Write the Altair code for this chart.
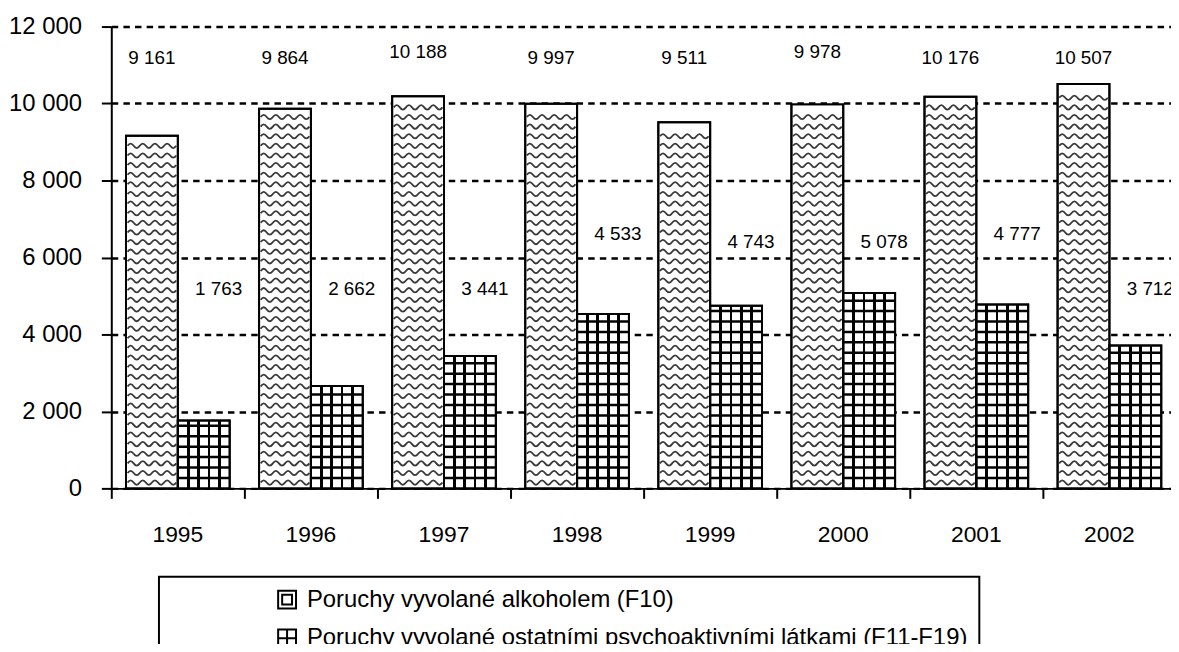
import altair as alt
import pandas as pd

# ---------------- data ----------------
years = ["1995", "1996", "1997", "1998", "1999", "2000", "2001", "2002"]
alcohol = [9161, 9864, 10188, 9997, 9511, 9978, 10176, 10507]
other = [1763, 2662, 3441, 4533, 4743, 5078, 4777, 3712]
series_names = [
    "Poruchy vyvolané alkoholem (F10)",
    "Poruchy vyvolané ostatními psychoaktivními látkami (F11-F19)",
]
title_text = "a ostatními psychoaktivními látkami"
y_ticks = [0, 2000, 4000, 6000, 8000, 10000, 12000]

# label anchor levels (where the value labels sit, in axis units)
alc_label_level = [11190, 11190, 11340, 11190, 11190, 11340, 11190, 11190]
oth_label_level = [5180, 5180, 5180, 6600, 6390, 6390, 6600, 5180]

# ---------------- style ----------------
SANS = "Liberation Sans, Arial, sans-serif"
WAVE_STEP, WAVE_START = 250, 150
GRID_STEP, GRID_THICK = 271, 65
WAVE_PATH = "M-1,0Q-0.875,-0.18,-0.75,0T-0.5,0T-0.25,0T0,0T0.25,0T0.5,0T0.75,0T1,0"


def fmt(v):
    return f"{v:,}".replace(",", " ")


rows = []
for i, yr in enumerate(years):
    rows.append(dict(year=yr, series=series_names[0], value=alcohol[i],
                     lab=fmt(alcohol[i]), lvl=alc_label_level[i]))
    rows.append(dict(year=yr, series=series_names[1], value=other[i],
                     lab=fmt(other[i]), lvl=oth_label_level[i]))
df = pd.DataFrame(rows)

# pattern rows (texture inside the bars)
wave_rows, grid_rows = [], []
for i, yr in enumerate(years):
    lv = WAVE_START
    while lv <= alcohol[i] - 150:
        wave_rows.append(dict(year=yr, series=series_names[0], lv=lv))
        lv += WAVE_STEP
    k = 1
    while GRID_STEP * k < other[i] - 60:
        c = GRID_STEP * k
        grid_rows.append(dict(year=yr, series=series_names[1],
                              lo=c - GRID_THICK / 2, hi=c + GRID_THICK / 2))
        k += 1
wave_df = pd.DataFrame(wave_rows)
grid_df = pd.DataFrame(grid_rows)

x_enc = alt.X(
    "year:N",
    scale=alt.Scale(domain=years, range=[0, 1072], paddingInner=0, paddingOuter=0),
    axis=alt.Axis(
        title=None, labelAngle=0, bandPosition=0,
        labelFont=SANS, labelFontSize=23, labelColor="black", labelPadding=25,
        tickSize=10, tickWidth=2, tickColor="black",
        domainColor="black", domainWidth=2, grid=False,
    ),
)
xo_enc = alt.XOffset(
    "series:N",
    scale=alt.Scale(domain=series_names, paddingOuter=0.2835, paddingInner=0),
)
y_scale = alt.Scale(domain=[0, 12000], nice=False)
y_enc = alt.Y(
    "value:Q",
    scale=y_scale,
    axis=alt.Axis(
        title=None, values=y_ticks,
        labelExpr="replace(format(datum.value, ','), ',', ' ')",
        labelFont=SANS, labelFontSize=24, labelColor="black", labelPadding=20,
        tickSize=10, tickWidth=2, tickColor="black",
        domainColor="black", domainWidth=2,
        grid=True, gridColor="black", gridWidth=2.5, gridDash=[6.5, 5.2],
    ),
)

base = alt.Chart(df)

sym_alc = "M-1,-1H1V1H-1Z M-0.55,-0.55H0.55V0.55H-0.55Z"
sym_grid = "M-1,-1H1V1H-1Z M0,-1V1 M-1,0H1"

# legend carrier: symbols sit in the middle of each bar and are covered by the bars
legend_layer = base.transform_calculate(mid="datum.value / 2").mark_point(
    filled=False, color="black", strokeWidth=2, opacity=1
).encode(
    x=x_enc, xOffset=xo_enc, y=alt.Y("mid:Q", scale=y_scale),
    shape=alt.Shape(
        "series:N",
        scale=alt.Scale(domain=series_names, range=[sym_alc, sym_grid]),
        legend=alt.Legend(
            title=None, orient="none", legendX=48, legendY=554,
            labelFont=SANS, labelFontSize=24, labelColor="black",
            labelOffset=8, labelLimit=1000, symbolOffset=106,
            symbolSize=324, symbolStrokeWidth=2, symbolStrokeColor="black",
            symbolOpacity=1,
            rowPadding=13, padding=11, strokeColor="black",
        ),
    ),
)

grid_fill = alt.LinearGradient(
    gradient="linear", x1=0, x2=1, y1=0, y2=0,
    stops=[alt.GradientStop(color="white", offset=0)]
    + [s for c in (0.2, 0.4, 0.6, 0.8) for s in (
        alt.GradientStop(color="white", offset=c - 0.026),
        alt.GradientStop(color="black", offset=c - 0.026),
        alt.GradientStop(color="black", offset=c + 0.026),
        alt.GradientStop(color="white", offset=c + 0.026),
    )]
    + [alt.GradientStop(color="white", offset=1)],
)

alc_bars = base.transform_filter(
    alt.datum.series == series_names[0]
).mark_bar(fill="white", stroke="black", strokeWidth=2).encode(
    x=x_enc, xOffset=xo_enc, y=y_enc
)
oth_bars = base.transform_filter(
    alt.datum.series == series_names[1]
).mark_bar(fill=grid_fill, stroke="black", strokeWidth=2).encode(
    x=x_enc, xOffset=xo_enc, y=y_enc
)

waves = alt.Chart(wave_df).mark_point(
    shape=WAVE_PATH, size=2401, filled=False, stroke="#3a3a3a",
    strokeWidth=1.8, opacity=1,
).encode(x=x_enc, xOffset=xo_enc, y=alt.Y("lv:Q", scale=y_scale))

grid_lines = alt.Chart(grid_df).mark_bar(color="black").encode(
    x=x_enc, xOffset=xo_enc,
    y=alt.Y("lo:Q", scale=y_scale), y2="hi:Q",
)

outline = base.mark_bar(fillOpacity=0, stroke="black", strokeWidth=2).encode(
    x=x_enc, xOffset=xo_enc, y=y_enc
)

alc_labels = base.transform_filter(
    alt.datum.series == series_names[0]
).mark_text(font=SANS, fontSize=19, color="black", baseline="middle").encode(
    x=x_enc, xOffset=xo_enc, y=alt.Y("lvl:Q", scale=y_scale), text="lab:N"
)
oth_labels = base.transform_filter(
    alt.datum.series == series_names[1]
).mark_text(font=SANS, fontSize=19, color="black", baseline="middle", dx=15).encode(
    x=x_enc, xOffset=xo_enc, y=alt.Y("lvl:Q", scale=y_scale), text="lab:N"
)

chart = alt.layer(
    legend_layer, alc_bars, oth_bars, waves, grid_lines, outline, alc_labels, oth_labels
).properties(
    width=1067,
    height=465,
    padding={"left": 104, "top": 16.5, "right": 0, "bottom": 154.5},
    autosize=alt.AutoSizeParams(type="none"),
    title=alt.TitleParams(
        text=title_text, font=SANS, fontSize=32, fontWeight="bold", color="black",
        anchor="middle", frame="group", baseline="alphabetic", offset=16, dx=-40,
    ),
).configure_view(stroke=None).configure_legend(strokeWidth=2)

chart.save("out.html", embed_options={"renderer": "svg", "actions": False})
